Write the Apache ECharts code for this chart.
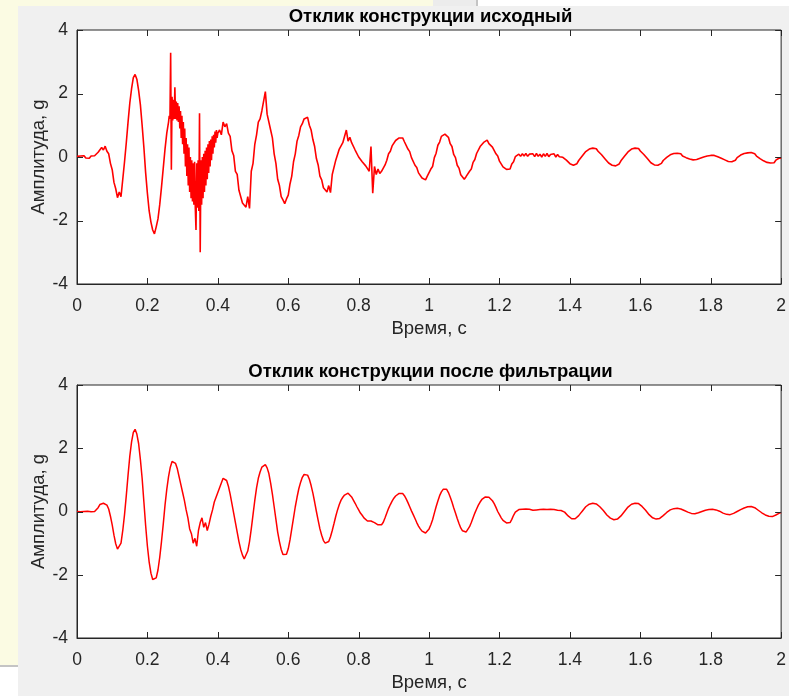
<!DOCTYPE html>
<html>
<head>
<meta charset="utf-8">
<script src="https://cdn.jsdelivr.net/npm/echarts@6/dist/echarts.min.js"></script>
<style>
  html, body { margin: 0; padding: 0; background: #f0f0f0; }
  #chart { width: 789px; height: 696px; }
</style>
</head>
<body>
<div id="chart"></div>
<script>
// Sampling step of the recorded accelerometer signal, s
const sampleStep = 0.005;

// Structure response before filtering, g
const rawResponse = [
  0.02, -0.03, 0.03, -0.02, 0.04, -0.03, 0.02, -0.04, 0.03, -0.02, 0.04, 0.0, 0.15, 0.2, 0.3, 0.22, 0.34, 0.18, 0.1, -0.2,
  -0.4, -0.8, -1.0, -1.28, -1.1, -1.25, -0.7, -0.15, 0.45, 1.1, 1.7, 2.15, 2.5, 2.6, 2.45, 2.1, 1.65, 1.0, 0.3, -0.5,
  -1.15, -1.7, -2.05, -2.3, -2.42, -2.2, -1.95, -1.5, -0.95, -0.35, 0.25, 0.75, 1.2, 3.28, -0.4, 1.75, 1.15, 1.8, 1.1, 1.6,
  1.25, 0.5, 1.0, -0.3, 0.3, -1.0, -0.1, -1.5, -2.3, 1.38, -3.0, 0.0, -1.3, -0.1, -0.9, 0.2, -0.5, 0.4, 0.0, 0.7,
  0.45, 0.85, 0.7, 1.1, 0.95, 1.05, 0.75, 0.65, 0.2, 0.05, -0.45, -0.55, -1.05, -1.1, -1.45, -1.4, -1.58, -1.25, -1.62, -0.45,
  -0.2, 0.4, 0.7, 1.1, 1.2, 1.45, 1.5, 2.06, 1.35, 1.3, 0.85, 0.6, 0.1, -0.2, -0.7, -0.9, -1.25, -1.35, -1.47, -1.32,
  -1.2, -0.85, -0.6, -0.15, 0.1, 0.5, 0.68, 0.95, 1.05, 1.2, 1.18, 1.25, 1.0, 0.85, 0.55, 0.33, -0.05, -0.25, -0.6, -0.72,
  -0.97, -0.95, -1.1, -0.9, -1.12, -0.55, -0.5, -0.1, -0.05, 0.25, 0.2, 0.45, 0.4, 0.85, 0.5, 0.62, 0.45, 0.42, 0.22, 0.2,
  0.0, 0.0, -0.15, -0.12, -0.28, -0.25, -0.45, 0.33, -1.14, -0.3, -0.55, -0.38, -0.52, -0.45, -0.4, -0.25, -0.1, 0.1, 0.18, 0.35,
  0.38, 0.52, 0.5, 0.6, 0.56, 0.6, 0.48, 0.42, 0.25, 0.17, -0.02, -0.08, -0.26, -0.33, -0.5, -0.53, -0.66, -0.64, -0.72, -0.6,
  -0.58, -0.38, -0.3, -0.02, 0.12, 0.37, 0.47, 0.65, 0.68, 0.72, 0.66, 0.62, 0.42, 0.33, 0.08, -0.02, -0.26, -0.35, -0.56, -0.58,
  -0.7, -0.62, -0.63, -0.45, -0.38, -0.17, -0.08, 0.11, 0.17, 0.33, 0.35, 0.46, 0.44, 0.53, 0.42, 0.44, 0.31, 0.28, 0.1, 0.03,
  -0.13, -0.17, -0.31, -0.3, -0.39, -0.34, -0.38, -0.22, -0.15, 0.01, 0.02, 0.09, 0.02, 0.1, 0.03, 0.11, 0.02, 0.09, 0.03, 0.1,
  0.01, 0.11, 0.02, 0.09, 0.0, 0.1, 0.02, 0.11, 0.01, 0.08, 0.02, 0.1, 0.0, 0.08, 0.01, 0.06, -0.01, 0.0, -0.1, -0.12,
  -0.21, -0.21, -0.26, -0.21, -0.21, -0.11, -0.08, 0.03, 0.06, 0.17, 0.18, 0.25, 0.23, 0.28, 0.24, 0.26, 0.18, 0.17, 0.07, 0.05,
  -0.06, -0.09, -0.19, -0.19, -0.26, -0.24, -0.28, -0.22, -0.22, -0.12, -0.09, 0.02, 0.05, 0.16, 0.17, 0.25, 0.23, 0.28, 0.24, 0.27,
  0.19, 0.18, 0.08, 0.06, -0.05, -0.08, -0.18, -0.18, -0.25, -0.22, -0.26, -0.2, -0.2, -0.11, -0.1, -0.01, 0.0, 0.07, 0.06, 0.11,
  0.08, 0.12, 0.07, 0.1, 0.03, 0.05, -0.02, 0.0, -0.06, -0.04, -0.09, -0.05, -0.08, -0.02, -0.04, 0.02, 0.0, 0.06, 0.03, 0.08,
  0.05, 0.09, 0.05, 0.07, 0.01, 0.03, -0.04, -0.03, -0.09, -0.08, -0.14, -0.1, -0.15, -0.1, -0.1, -0.02, -0.01, 0.06, 0.05, 0.11,
  0.09, 0.13, 0.1, 0.14, 0.09, 0.1, 0.03, 0.02, -0.05, -0.07, -0.12, -0.12, -0.17, -0.14, -0.19, -0.15, -0.18, -0.1, -0.1, -0.03,
  -0.04
];

// Impact burst of the unfiltered record, resolved at a finer step, g
const burstStart = 0.26;
const burstEnd = 0.40;
const burstStep = 0.002;
const burstResponse = [
  1.1, 1.3, 1.2, 3.28, -0.4, 1.9, 1.15, 1.8, 1.2, 2.2,
  1.2, 1.75, 1.15, 1.7, 1.1, 1.6, 0.9, 1.45, 0.6, 1.3,
  0.4, 1.1, 0.1, 0.9, -0.3, 0.6, -0.6, 0.4, -0.9, 0.3,
  -1.1, 0.0, -1.3, -0.1, -1.4, -0.2, -1.5, -0.15, -1.6, -2.3,
  -0.2, -1.6, -0.1, -1.7, 1.38, -3.0, -0.1, -1.5, 0.0, -1.3,
  0.1, -1.1, 0.2, -0.9, 0.3, -0.7, 0.4, -0.5, 0.5, -0.3,
  0.55, -0.1, 0.65, 0.1, 0.7, 0.3, 0.8, 0.45, 0.85, 0.6,
  0.75
];

// Structure response after filtering, g
const filteredResponse = [
  0, 0.01, -0.01, 0.01, 0, -0.01, 0.01, 0, -0.01, 0.01, 0, 0.02, 0.12, 0.22, 0.28, 0.26, 0.3, 0.2, 0.08, -0.15,
  -0.42, -0.75, -1.02, -1.19, -1.18, -1.0, -0.6, -0.1, 0.5, 1.15, 1.75, 2.2, 2.5, 2.6, 2.45, 2.15, 1.65, 1.05, 0.3, -0.45,
  -1.1, -1.6, -1.95, -2.15, -2.21, -2.1, -1.85, -1.45, -0.95, -0.4, 0.2, 0.7, 1.1, 1.4, 1.58, 1.62, 1.52, 1.35, 1.1, 0.85,
  0.6, 0.35, 0.05, -0.2, -0.55, -0.7, -1.0, -0.85, -1.1, -0.6, -0.35, -0.2, -0.5, -0.35, -0.6, -0.4, -0.15, 0.05, 0.3, 0.45,
  0.6, 0.75, 0.9, 1.05, 1.08, 0.98, 0.8, 0.55, 0.25, -0.05, -0.35, -0.65, -0.95, -1.2, -1.38, -1.5, -1.45, -1.25, -0.95, -0.55,
  -0.1, 0.35, 0.75, 1.05, 1.25, 1.4, 1.46, 1.48, 1.38, 1.2, 0.9, 0.55, 0.15, -0.25, -0.65, -0.95, -1.2, -1.36, -1.42, -1.35,
  -1.18, -0.9, -0.55, -0.2, 0.15, 0.45, 0.72, 0.92, 1.08, 1.17, 1.21, 1.15, 1.02, 0.82, 0.58, 0.3, 0.0, -0.28, -0.55, -0.75,
  -0.92, -1.0, -1.02, -0.95, -0.8, -0.6, -0.38, -0.15, 0.05, 0.22, 0.36, 0.45, 0.52, 0.56, 0.58, 0.54, 0.46, 0.36, 0.26, 0.15,
  0.05, -0.05, -0.12, -0.2, -0.22, -0.3, -0.24, -0.3, -0.27, -0.35, -0.36, -0.42, -0.46, -0.42, -0.34, -0.2, -0.05, 0.1, 0.22, 0.33,
  0.42, 0.49, 0.53, 0.57, 0.58, 0.57, 0.5, 0.4, 0.28, 0.15, 0.02, -0.1, -0.22, -0.35, -0.46, -0.55, -0.62, -0.66, -0.68, -0.63,
  -0.55, -0.42, -0.26, -0.05, 0.15, 0.33, 0.5, 0.62, 0.7, 0.74, 0.7, 0.6, 0.46, 0.3, 0.12, -0.05, -0.22, -0.38, -0.52, -0.61,
  -0.66, -0.65, -0.6, -0.48, -0.35, -0.2, -0.05, 0.08, 0.2, 0.3, 0.38, 0.43, 0.46, 0.47, 0.45, 0.41, 0.34, 0.25, 0.13, 0.0,
  -0.1, -0.2, -0.28, -0.33, -0.36, -0.37, -0.35, -0.25, -0.12, -0.02, 0.04, 0.06, 0.05, 0.07, 0.06, 0.08, 0.05, 0.07, 0.06, 0.04,
  0.07, 0.05, 0.08, 0.06, 0.04, 0.07, 0.05, 0.06, 0.04, 0.07, 0.05, 0.06, 0.05, 0.04, 0.05, 0.03, 0.02, -0.02, -0.08, -0.14,
  -0.19, -0.23, -0.24, -0.23, -0.19, -0.13, -0.06, 0.01, 0.08, 0.15, 0.2, 0.23, 0.25, 0.26, 0.26, 0.24, 0.2, 0.15, 0.09, 0.03,
  -0.04, -0.11, -0.17, -0.21, -0.24, -0.26, -0.26, -0.24, -0.2, -0.14, -0.07, 0.0, 0.07, 0.14, 0.19, 0.23, 0.25, 0.26, 0.26, 0.25,
  0.21, 0.16, 0.1, 0.04, -0.03, -0.1, -0.16, -0.2, -0.23, -0.24, -0.24, -0.22, -0.18, -0.13, -0.08, -0.03, 0.02, 0.05, 0.08, 0.09,
  0.1, 0.1, 0.09, 0.08, 0.05, 0.03, 0.0, -0.02, -0.04, -0.06, -0.07, -0.07, -0.06, -0.04, -0.02, 0.0, 0.02, 0.04, 0.05, 0.06,
  0.07, 0.07, 0.07, 0.05, 0.03, 0.01, -0.02, -0.05, -0.07, -0.09, -0.1, -0.1, -0.09, -0.06, -0.03, 0.0, 0.03, 0.06, 0.09, 0.11,
  0.13, 0.15, 0.16, 0.16, 0.15, 0.12, 0.08, 0.04, 0.0, -0.04, -0.08, -0.11, -0.13, -0.15, -0.16, -0.16, -0.14, -0.11, -0.08, -0.05,
  -0.03
];

// Axis ranges and tick positions
const timeRange = [0, 2];
const timeTickStep = 0.2;
const timeTicks = [0, 0.2, 0.4, 0.6, 0.8, 1, 1.2, 1.4, 1.6, 1.8, 2];
const amplitudeRange = [-4, 4];
const amplitudeTickStep = 2;
const amplitudeTicks = [-4, -2, 0, 2, 4];

// Panel texts
const panelTitles = ['Отклик конструкции исходный', 'Отклик конструкции после фильтрации'];
const timeAxisName = 'Время, с';
const amplitudeAxisName = 'Амплитуда, g';

function toPairs(values, step, start) {
  return values.map((v, i) => [+(start + i * step).toFixed(4), v]);
}

// Coarse record outside the burst window, fine samples inside it
function rawSeriesData() {
  const coarse = toPairs(rawResponse, sampleStep, 0);
  const fine = toPairs(burstResponse, burstStep, burstStart);
  const before = coarse.filter(p => p[0] < burstStart);
  const after = coarse.filter(p => p[0] > burstEnd);
  return before.concat(fine, after);
}

const FONT = '"Liberation Sans", Arial, Helvetica, sans-serif';
const INK = '#262626';
const TICK_FONT = 17.5;
const NAME_FONT = 18.5;
const TICK_LEN = 6;

// Two stacked panels
const panels = [
  { left: 77, top: 30, width: 707, height: 254 },
  { left: 77, top: 385, width: 707, height: 253 }
];

const fmtTick = v => String(+v.toFixed(1));
const edgeLine = { show: true, onZero: false, lineStyle: { color: INK, width: 1 } };

const xAxes = [];
const yAxes = [];
panels.forEach((p, gi) => {
  xAxes.push({
    type: 'value', gridIndex: gi, position: 'bottom',
    min: timeRange[0], max: timeRange[1], interval: timeTickStep,
    name: timeAxisName, nameLocation: 'middle', nameGap: 35,
    nameTextStyle: { color: INK, fontFamily: FONT, fontSize: NAME_FONT },
    axisLine: edgeLine, axisTick: { show: false },
    axisLabel: { color: INK, fontFamily: FONT, fontSize: TICK_FONT, margin: 13, formatter: fmtTick },
    splitLine: { show: false }
  });
  yAxes.push({
    type: 'value', gridIndex: gi, position: 'left',
    min: amplitudeRange[0], max: amplitudeRange[1], interval: amplitudeTickStep,
    name: amplitudeAxisName, nameLocation: 'middle', nameGap: 29, nameRotate: 90,
    nameMoveOverlap: false,
    nameTextStyle: { color: INK, fontFamily: FONT, fontSize: NAME_FONT },
    axisLine: edgeLine, axisTick: { show: false },
    axisLabel: { color: INK, fontFamily: FONT, fontSize: TICK_FONT, margin: 9 },
    splitLine: { show: false }
  });
});

const chrome = [
  // surrounding window chrome
  { type: 'rect', z: -10, silent: true, shape: { x: 0, y: 0, width: 18, height: 665 }, style: { fill: '#fbfbe3' } },
  { type: 'rect', z: -10, silent: true, shape: { x: 0, y: 0, width: 433, height: 6 }, style: { fill: '#fbfbe3' } },
  { type: 'rect', z: -10, silent: true, shape: { x: 433, y: 0, width: 43, height: 6 }, style: { fill: '#ececec' } },
  { type: 'rect', z: -10, silent: true, shape: { x: 476, y: 0, width: 2, height: 6 }, style: { fill: '#c4c4c4' } },
  { type: 'rect', z: -10, silent: true, shape: { x: 478, y: 0, width: 311, height: 6 }, style: { fill: '#ffffff' } },
  { type: 'rect', z: -10, silent: true, shape: { x: 0, y: 665, width: 18, height: 2 }, style: { fill: '#c4c4c4' } },
  { type: 'rect', z: -10, silent: true, shape: { x: 0, y: 667, width: 18, height: 29 }, style: { fill: '#ffffff' } },
  // panel titles
  { type: 'text', silent: true, style: { text: panelTitles[0], x: 430.5, y: 17, textAlign: 'center', textVerticalAlign: 'middle', font: 'bold 18.5px ' + FONT, fill: '#000000' } },
  { type: 'text', silent: true, style: { text: panelTitles[1], x: 430.5, y: 372, textAlign: 'center', textVerticalAlign: 'middle', font: 'bold 18.5px ' + FONT, fill: '#000000' } }
];

const chart = echarts.init(document.getElementById('chart'), null, { renderer: 'canvas' });

chart.setOption({
  animation: false,
  backgroundColor: '#f0f0f0',
  grid: panels.map(p => ({
    left: p.left, top: p.top, width: p.width, height: p.height,
    show: true, backgroundColor: '#ffffff', borderColor: INK, borderWidth: 1,
    containLabel: false
  })),
  xAxis: xAxes,
  yAxis: yAxes,
  graphic: chrome,
  series: [
    {
      type: 'line', xAxisIndex: 0, yAxisIndex: 0, data: rawSeriesData(),
      showSymbol: false, symbol: 'none', sampling: null, clip: true,
      lineStyle: { color: '#ff0000', width: 1.6 }
    },
    {
      type: 'line', xAxisIndex: 1, yAxisIndex: 1, data: toPairs(filteredResponse, sampleStep, 0),
      showSymbol: false, symbol: 'none', sampling: null, clip: true,
      lineStyle: { color: '#ff0000', width: 1.5 }
    }
  ]
});

// Inward tick marks on all four sides of each panel, positioned through the axis scales
const tickMarks = [];
panels.forEach((p, gi) => {
  const finder = { gridIndex: gi };
  const [xLeft, yBottom] = chart.convertToPixel(finder, [timeRange[0], amplitudeRange[0]]);
  const [xRight, yTop] = chart.convertToPixel(finder, [timeRange[1], amplitudeRange[1]]);
  const style = { stroke: INK, lineWidth: 1 };
  timeTicks.forEach(t => {
    const x = Math.round(chart.convertToPixel(finder, [t, 0])[0]) + 0.5;
    tickMarks.push({ type: 'line', z: 50, silent: true, shape: { x1: x, y1: yBottom, x2: x, y2: yBottom - TICK_LEN }, style });
    tickMarks.push({ type: 'line', z: 50, silent: true, shape: { x1: x, y1: yTop, x2: x, y2: yTop + TICK_LEN }, style });
  });
  amplitudeTicks.forEach(v => {
    const y = Math.round(chart.convertToPixel(finder, [0, v])[1]) + 0.5;
    tickMarks.push({ type: 'line', z: 50, silent: true, shape: { x1: xLeft, y1: y, x2: xLeft + TICK_LEN, y2: y }, style });
    tickMarks.push({ type: 'line', z: 50, silent: true, shape: { x1: xRight, y1: y, x2: xRight - TICK_LEN, y2: y }, style });
  });
});

chart.setOption({ graphic: chrome.concat(tickMarks) });
</script>
</body>
</html>
